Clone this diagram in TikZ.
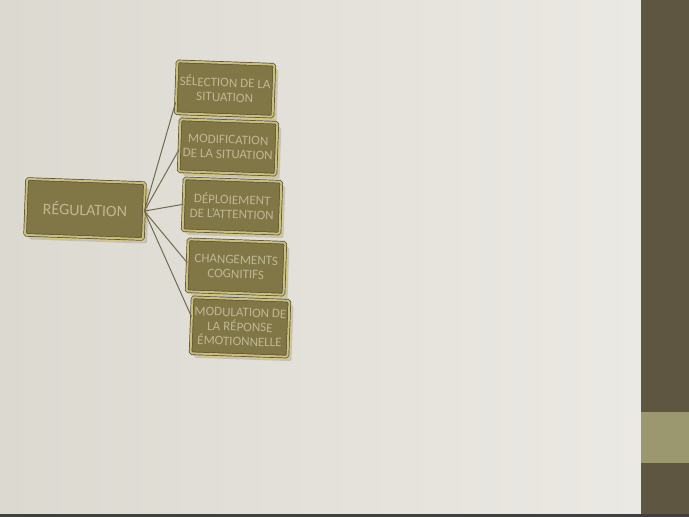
\documentclass[tikz,border=0pt]{standalone}
\usepackage{fontspec}
\setmainfont{Carlito}
\usetikzlibrary{shadows}
\definecolor{bgdark}{HTML}{DCD9D1}
\definecolor{bglight}{HTML}{EBE9E3}
\definecolor{stripdark}{HTML}{5E5641}
\definecolor{striplight}{HTML}{9B976F}
\definecolor{boxface}{HTML}{817646}
\definecolor{boxrim}{HTML}{D3C987}
\definecolor{boxedge}{HTML}{5A5030}
\definecolor{boxtext}{HTML}{BDB794}
\definecolor{linkcol}{HTML}{6F6A50}
\begin{document}
\begin{tikzpicture}[x=1pt, y=-1pt,
		box/.style={rectangle, fill=boxface, draw=boxedge, line width=0.7pt, double=boxrim!85!boxface, double distance=2pt, rounded corners=1.5pt, text=boxtext, font=\fontsize{13}{14.5}\selectfont, align=center, minimum width=97pt, minimum height=52pt, inner sep=0pt, rotate=-2, general shadow={shadow xshift=4pt, shadow yshift=-4.5pt, fill=black!50, opacity=0.3}, drop shadow={shadow xshift=2.6pt, shadow yshift=-3pt, fill=boxrim, opacity=1}},
		link/.style={draw=linkcol, line width=1pt}]
		\useasboundingbox (0,0) rectangle (689,517);
		% background and side strip
		\shade[left color=bgdark, right color=bglight] (0,0) rectangle (641,517);
		\fill[stripdark] (641,0) rectangle (689,517);
		\fill[striplight] (641,412) rectangle (689,463);
		\fill[black!75] (0,514) rectangle (689,517);

		\node[box, minimum width=118pt, minimum height=56pt, font=\fontsize{16}{18}\selectfont](reg) at (85,209){RÉGULATION};
		\node[box](sel) at (225,89){SÉLECTION DE LA\\SITUATION};
		\node[box](mod) at (228,147){MODIFICATION\\DE LA SITUATION};
		\node[box](dep) at (232,206){DÉPLOIEMENT\\DE L’ATTENTION};
		\node[box](chg) at (236,267){CHANGEMENTS\\COGNITIFS};
		\node[box, minimum height=56pt](emo) at (240,327){MODULATION DE\\LA RÉPONSE\\ÉMOTIONNELLE};

		\draw [link] (reg.east) -- (sel.197);
		\draw [link] (reg.east) -- (mod.185);
		\draw [link] (reg.east) -- (dep.west);
		\draw [link] (reg.east) -- (chg.177);
		\draw [link] (reg.east) -- (emo.170);
	\end{tikzpicture}
\end{document}
